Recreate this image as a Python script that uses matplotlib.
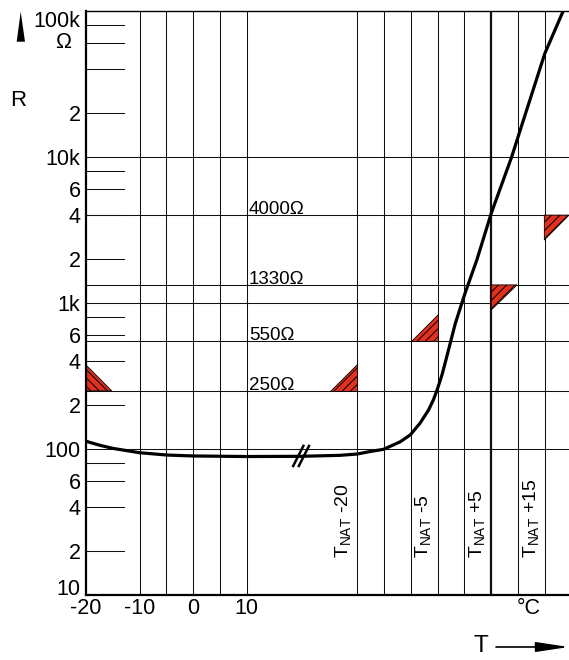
import numpy as np
import matplotlib
matplotlib.use('Agg')
import matplotlib.pyplot as plt
from matplotlib.patches import Polygon

plt.rcParams['font.family'] = ['Liberation Sans', 'DejaVu Sans']
plt.rcParams['mathtext.fontset'] = 'custom'
plt.rcParams['mathtext.rm'] = 'Liberation Sans'
plt.rcParams['hatch.linewidth'] = 0.7

# resistance curve (x: deg C, right part relative to T_NAT)
curve_t = [-20, -17.4, -15, -10, -4.9, 0, 10, 20, 27.4, 30.6, 33, 35.5, 38.6, 40.5,
           42.3, 43.9, 44.8, 45.5, 46.4, 47.3, 48.1, 48.9, 49.8, 50.7, 52.9, 55.6,
           59.4, 61.6, 65.6, 69.1]
curve_r = [113, 106, 101, 94.3, 90.9, 89.6, 88.8, 89.1, 90.5, 92.4, 96.1, 99.5, 112, 125,
           150, 185, 217, 254, 321, 429, 558, 726, 920, 1165, 1970, 4120,
           10000, 17900, 51300, 101600]

# grid
left_temps = [-10, -5, 0, 5, 10]
nat_pos = 45.6                      # where T_NAT sits on the (broken) axis
nat_offsets = [-15, -10, -5, 0, 5, 10, 15, 20]
nat_thick = 10
nat_labels = [-20, -5, 5, 15]
nat_texts = ['-20', '-5', '+5', '+15']
h_lines = [10000, 4000, 1330, 1000, 550, 250, 100]

# switching thresholds
thresholds = [4000, 1330, 550, 250]
thr_texts = ['4000Ω', '1330Ω', '550Ω', '250Ω']

# hatched triangles: x0, x1, base R, tip R, tip at x0 or x1
tri_x0 = [-20, 25.5, 40.6, 55.6, 65.5]
tri_x1 = [-15.2, 30.5, 45.6, 60.4, 70.1]
tri_base = [250, 250, 550, 1330, 4000]
tri_tip = [376, 382, 841, 896, 2700]
tri_tip_left = [True, False, False, True, True]

# axis labels
ytick_vals = [100000, 20000, 10000, 6000, 4000, 2000, 1000, 600, 400, 200, 100, 60, 40, 20, 10]
ytick_txt = ['100k', '2', '10k', '6', '4', '2', '1k', '6', '4', '2', '100', '6', '4', '2', '10']
minor_vals = [m * 10**k for k in range(1, 5) for m in (2, 4, 6, 8)]
xtick_vals = [-20, -10, 0, 10, 62.5]
xtick_txt = ['-20', '-10', '0', '10', '°C']

fig = plt.figure(figsize=(5.69, 6.6), dpi=100)
ax = fig.add_axes([86/569, 65/660, 483/569, 584/660])
ax.set_yscale('log')
ax.set_xlim(-20, 70.1)
ax.set_ylim(10, 100000)

# grid lines
for t in left_temps:
    ax.axvline(t, color='#111111', lw=0.75, zorder=1)
for o in nat_offsets:
    ax.axvline(nat_pos + o, color='#111111', lw=1.6 if o == nat_thick else 0.75, zorder=1)
for r in h_lines:
    ax.axhline(r, color='#111111', lw=0.75, zorder=1)

# short tick lines on the left
ytr = ax.get_yaxis_transform()
for r in minor_vals:
    ax.plot([0, 0.079], [r, r], color='#111111', lw=0.75, transform=ytr, zorder=1)

# triangles
for i in range(len(tri_x0)):
    tx = tri_x0[i] if tri_tip_left[i] else tri_x1[i]
    pts = [(tri_x0[i], tri_base[i]), (tri_x1[i], tri_base[i]), (tx, tri_tip[i])]
    hatch = '\\\\\\\\' if (tri_tip_left[i] and tri_tip[i] > tri_base[i]) else '////'
    ax.add_patch(Polygon(pts, closed=True, facecolor='#e0301e', edgecolor='black',
                         lw=0.6, hatch=hatch, zorder=2))

# curve
ax.plot(curve_t, curve_r, color='black', lw=2.3, zorder=4, solid_capstyle='butt',
        solid_joinstyle='round')

# break marks on the curve
brk_t = 20.1
for dx in (-0.5, 0.55):
    ax.plot([brk_t + dx - 0.95, brk_t + dx + 0.95], [76.5, 105], color='black', lw=1.8, zorder=5)

# threshold labels
for r, s in zip(thresholds, thr_texts):
    ax.text(10.4, r * 1.015, s, fontsize=13.5, ha='left', va='baseline', zorder=6)

# T_NAT labels
for v, s in zip(nat_labels, nat_texts):
    ax.text(nat_pos + v + 2.5, 17.8, r'T$_{\mathrm{NAT}}$ ' + s, fontsize=14,
            rotation=90, ha='center', va='bottom', zorder=6)

ax.set_yticks(ytick_vals, ytick_txt)
ax.minorticks_off()
ax.set_xticks(xtick_vals, xtick_txt)
ax.tick_params(axis='both', length=0, labelsize=15.5)
ax.tick_params(axis='y', pad=4)
ax.tick_params(axis='x', pad=2)
ylabs = ax.get_yticklabels()
ylabs[0].set_va('top')
ylabs[-1].set_va('baseline')

ax.spines['right'].set_visible(False)
ax.spines['left'].set_linewidth(1.6)
ax.spines['bottom'].set_linewidth(1.6)
ax.spines['top'].set_linewidth(1.0)

# axis captions
fig.text(18/569, 1 - 101/660, 'R', fontsize=16, ha='center', va='center')
fig.text(63/569, 1 - 43/660, 'Ω', fontsize=15.5, ha='center', va='center')
fig.patches.append(Polygon([(20.7/569, 1 - 11.7/660), (16.7/569, 1 - 41.7/660),
                            (25/569, 1 - 41.7/660)], closed=True, facecolor='black',
                           edgecolor='none', transform=fig.transFigure, figure=fig))
fig.text(480.5/569, 1 - 646/660, 'T', fontsize=17.5, ha='center', va='center')
ax.annotate('', xy=(569/569, 1 - 647/660), xytext=(496/569, 1 - 647/660),
            xycoords='figure fraction', textcoords='figure fraction',
            arrowprops=dict(arrowstyle='-|>,head_length=2.0,head_width=0.3',
                            mutation_scale=10, color='black', lw=1.2,
                            shrinkA=0, shrinkB=0))

fig.savefig('out.png', dpi=100)
